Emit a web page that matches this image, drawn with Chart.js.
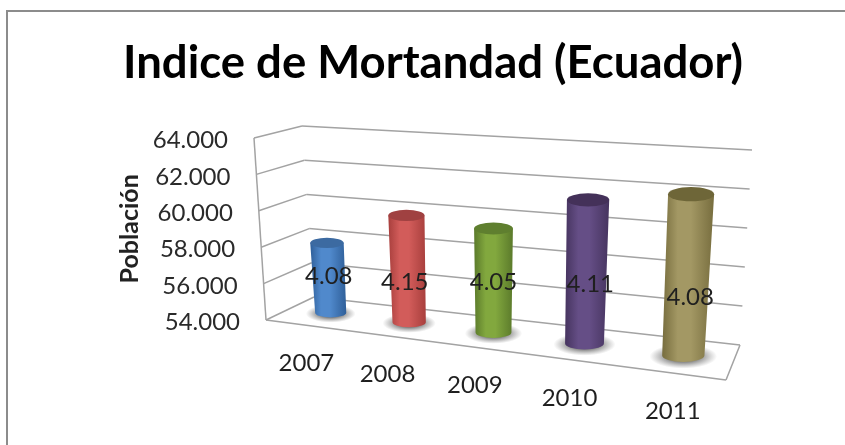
<!DOCTYPE html>
<html>
<head>
<meta charset="utf-8">
<style>html,body{margin:0;padding:0;background:#fff}canvas{display:block;filter:blur(0.45px)}</style>
<script src="https://cdn.jsdelivr.net/npm/chart.js@4"></script>
</head>
<body>
<canvas id="c" width="845" height="445"></canvas>
<script>
const years = ['2007', '2008', '2009', '2010', '2011'];
const population = [57.9, 59.8, 59.5, 61.4, 62.1];
const rateLabels = ['4.08', '4.15', '4.05', '4.11', '4.08'];
const tickLabels = ['54.000', '56.000', '58.000', '60.000', '62.000', '64.000'];
const barBase = ['#2f5f99', '#a83f3d', '#5b7a2b', '#46345f', '#776d3e'];
const barLight = ['#5089cc', '#d25c5a', '#82a83e', '#654e86', '#a39864'];
const barTop = ['#3c6aa1', '#a04141', '#5f7f2f', '#443159', '#6e6638'];

// Projection of the chart's unit box (across, depth, height) onto the tilted 3D view
function homography(p0, p1, p2, p3) {
  const dx1 = p1[0] - p2[0], dx2 = p3[0] - p2[0], sx = p0[0] - p1[0] + p2[0] - p3[0];
  const dy1 = p1[1] - p2[1], dy2 = p3[1] - p2[1], sy = p0[1] - p1[1] + p2[1] - p3[1];
  const den = dx1 * dy2 - dx2 * dy1;
  const g = (sx * dy2 - dx2 * sy) / den, h = (dx1 * sy - sx * dy1) / den;
  const a = p1[0] - p0[0] + g * p1[0], b = p3[0] - p0[0] + h * p3[0], c = p0[0];
  const d = p1[1] - p0[1] + g * p1[1], e = p3[1] - p0[1] + h * p3[1], f = p0[1];
  return (u, w) => {
    const k = g * u + h * w + 1;
    return [(a * u + b * w + c) / k, (d * u + e * w + f) / k];
  };
}
const FL = [266, 320], FR = [726, 380], BR = [740, 345], BL = [314, 297];
const floorH = homography(FL, FR, BR, BL);
function floorPt(u, w) {
  const p = floorH(u, w);
  const lx = FL[0] + (BL[0] - FL[0]) * w, ly = FL[1] + (BL[1] - FL[1]) * w;
  const rx = FR[0] + (BR[0] - FR[0]) * w, ry = FR[1] + (BR[1] - FR[1]) * w;
  const bx = lx + (rx - lx) * u, by = ly + (ry - ly) * u;
  return [0.8 * p[0] + 0.2 * bx, 0.8 * p[1] + 0.2 * by];
}
function pt(u, w, v) {
  const f = floorPt(u, w);
  const lean = -12 + 24 * u;
  const hL = 182 + (171 - 182) * w, hR = 208 + (195 - 208) * w;
  return [f[0] + lean * v, f[1] - (hL + (hR - hL) * u) * v];
}
const BAR_DEPTH = 0.5, BAR_SHIFT = 2.5;
const FONT = 'Lato, "Open Sans", sans-serif';

const view3d = {
  id: 'view3d',
  beforeDraw(chart) {
    const c = chart.ctx;
    c.save();
    c.fillStyle = '#fff';
    c.fillRect(0, 0, chart.width, chart.height);
    c.strokeStyle = '#8c8c8c';
    c.lineWidth = 2;
    c.beginPath();
    c.moveTo(845, 11); c.lineTo(7, 11); c.lineTo(7, 445);
    c.stroke();
    c.restore();
  },
  beforeDatasetDraw() { return false; },
  beforeDatasetsDraw(chart) {
    const c = chart.ctx, y = chart.scales.y, a = chart.chartArea;
    c.save();
    c.strokeStyle = '#a3a3a3';
    c.lineWidth = 1.5;
    const line = (p, q) => { c.beginPath(); c.moveTo(p[0], p[1]); c.lineTo(q[0], q[1]); c.stroke(); };
    y.ticks.forEach((t) => {
      const v = (a.bottom - y.getPixelForValue(t.value)) / (a.bottom - a.top);
      line(pt(0, 0, v), pt(0, 1, v));
      line(pt(0, 1, v), pt(1, 1, v));
    });
    line(pt(0, 0, 1), pt(0, 0, 0));
    line(pt(0, 0, 0), pt(1, 0, 0));
    line(pt(1, 0, 0), pt(1, 1, 0));
    c.fillStyle = '#2a2a2a';
    c.font = '24px ' + FONT;
    c.textAlign = 'right';
    c.textBaseline = 'middle';
    y.ticks.forEach((t, i) => {
      const v = (a.bottom - y.getPixelForValue(t.value)) / (a.bottom - a.top);
      const p = pt(0, 0, v);
      c.fillText(tickLabels[i], p[0] - 26, p[1] + 2.5);
    });
    c.restore();
  },
  afterDatasetsDraw(chart) {
    const c = chart.ctx, a = chart.chartArea, W = a.right - a.left, H = a.bottom - a.top;
    const els = chart.getDatasetMeta(0).data;
    const geo = els.map((el) => {
      const u = (el.x - a.left) / W, half = el.width / 2 / W, v = (a.bottom - el.y) / H;
      const bl = pt(u - half, BAR_DEPTH, 0), br = pt(u + half, BAR_DEPTH, 0);
      const tl = pt(u - half * 1.05, BAR_DEPTH, v), tr = pt(u + half * 1.05, BAR_DEPTH, v);
      return { u, bl, br, tl, tr,
        bc: [(bl[0] + br[0]) / 2 + BAR_SHIFT, (bl[1] + br[1]) / 2],
        tc: [(tl[0] + tr[0]) / 2 + BAR_SHIFT, (tl[1] + tr[1]) / 2] };
    });
    c.save();
    geo.forEach((g, i) => {
      const rxB = (g.br[0] - g.bl[0]) / 2, rxT = (g.tr[0] - g.tl[0]) / 2;
      // floor shadow
      c.save();
      c.translate(g.bc[0], g.bc[1] + 1);
      c.scale(1, 0.36);
      const s = c.createRadialGradient(0, 0, rxB * 0.7, 0, 0, rxB * 1.6);
      s.addColorStop(0, 'rgba(105,105,105,0.85)');
      s.addColorStop(1, 'rgba(130,130,130,0)');
      c.fillStyle = s;
      c.beginPath();
      c.arc(0, 0, rxB * 1.6, 0, Math.PI * 2);
      c.fill();
      c.restore();
      // body
      const minX = Math.min(g.bc[0] - rxB, g.tc[0] - rxT), maxX = Math.max(g.bc[0] + rxB, g.tc[0] + rxT);
      const grad = c.createLinearGradient(minX, 0, maxX, 0);
      grad.addColorStop(0, barBase[i]);
      grad.addColorStop(0.3, barLight[i]);
      grad.addColorStop(0.55, barLight[i]);
      grad.addColorStop(1, barBase[i]);
      c.fillStyle = grad;
      c.beginPath();
      c.moveTo(g.tc[0] - rxT, g.tc[1]);
      c.lineTo(g.bc[0] - rxB, g.bc[1]);
      c.ellipse(g.bc[0], g.bc[1], rxB, rxB * 0.31, 0, Math.PI, 0, true);
      c.lineTo(g.tc[0] + rxT, g.tc[1]);
      c.closePath();
      c.fill();
      // top cap
      c.fillStyle = barTop[i];
      c.beginPath();
      c.ellipse(g.tc[0], g.tc[1], rxT, rxT * 0.31, 0, 0, Math.PI * 2);
      c.fill();
    });
    // value labels and category labels
    const labelNudge = [[0, -1], [-3, 13], [0, 2], [4, 13], [3, 22]];
    c.font = '24px ' + FONT;
    c.textAlign = 'center';
    c.textBaseline = 'middle';
    c.fillStyle = '#1f1f1f';
    geo.forEach((g, i) => {
      const n = labelNudge[i];
      c.fillText(rateLabels[i], (g.bc[0] + g.tc[0]) / 2 + n[0], (g.bc[1] + g.tc[1]) / 2 + n[1]);
      const p = pt(g.u, 0, 0);
      c.fillText(years[i], p[0] + 2, p[1] + 38.5);
    });
    c.restore();
  }
};

new Chart(document.getElementById('c'), {
  type: 'bar',
  data: {
    labels: years,
    datasets: [{ label: 'Población', data: population, backgroundColor: barLight, barPercentage: 0.41, categoryPercentage: 1 }]
  },
  plugins: [view3d],
  options: {
    responsive: false,
    animation: false,
    layout: { padding: { left: 21, right: 0, top: 0, bottom: 125 } },
    plugins: {
      legend: { display: false },
      tooltip: { enabled: false },
      title: {
        display: true,
        text: 'Indice de Mortandad (Ecuador)',
        color: '#000',
        font: { family: FONT, size: 45.5, weight: 'bold' },
        padding: { top: 36, bottom: 47 }
      }
    },
    scales: {
      x: { display: false },
      y: {
        min: 54, max: 64,
        ticks: { display: false, stepSize: 2 },
        grid: { display: false },
        border: { display: false },
        title: {
          display: true,
          text: 'Población',
          color: '#222',
          font: { family: FONT, size: 25, weight: 'bold' },
          padding: { top: 94, bottom: 10 }
        }
      }
    }
  }
});
</script>
</body>
</html>
